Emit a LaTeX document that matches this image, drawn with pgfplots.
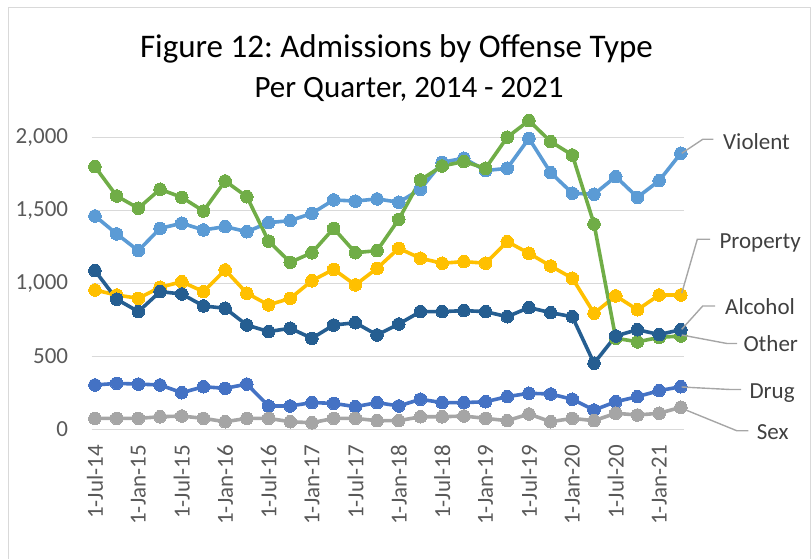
\documentclass[border=0pt]{standalone}
\usepackage{pgfplots}
\usepackage{pgfplotstable}
\pgfplotsset{compat=1.18}
\usepackage{fontspec}
\setmainfont{Carlito}
\frenchspacing
\definecolor{cViolent}{HTML}{5B9BD5}
\definecolor{cOther}{HTML}{70AD47}
\definecolor{cProperty}{HTML}{FFC000}
\definecolor{cAlcohol}{HTML}{255E91}
\definecolor{cDrug}{HTML}{4472C4}
\definecolor{cSex}{HTML}{A5A5A5}
\definecolor{gridgray}{HTML}{D9D9D9}
\definecolor{ticktext}{HTML}{595959}
\definecolor{labeltext}{HTML}{404040}
\definecolor{leader}{HTML}{A6A6A6}

\pgfplotstableread{
i violent other property alcohol drug sex
0  1463 1801 955  1088 304 75
1  1340 1600 921  892  315 75
2  1225 1516 898  807  310 75
3  1378 1646 974  944  304 86
4  1413 1591 1012 928  251 91
5  1367 1497 944  846  292 75
6  1390 1703 1093 830  281 52
7  1355 1595 933  715  310 75
8  1417 1291 853  670  160 75
9  1431 1145 898  693  160 52
10 1481 1211 1019 624  183 45
11 1573 1378 1097 715  178 75
12 1565 1211 990  731  155 75
13 1580 1225 1104 647  183 59
14 1557 1440 1241 722  160 59
15 1646 1710 1173 807  206 86
16 1831 1806 1139 807  183 86
17 1859 1836 1150 814  183 91
18 1774 1790 1139 807  189 75
19 1790 2003 1287 772  224 59
20 1995 2117 1207 835  247 105
21 1760 1973 1120 800  242 52
22 1619 1881 1036 772  206 75
23 1612 1408 796  453  132 59
24 1733 625  915  640  189 110
25 1591 600  820  683  224 98
26 1705 630  921  650  265 110
27 1893 640  921  683  292 151
}\datatable

\pgfplotsset{
  ser/.style={color=#1, line width=3.6pt, line join=round, mark=*, mark size=6.3pt,
    mark options={solid, fill=#1, draw=#1, line width=0pt}},
}

\begin{document}
\begin{tikzpicture}[x=1pt,y=1pt]
\begin{axis}[
  at={(91.7pt,128.7pt)}, anchor=south west,
  scale only axis, width=592.4pt, height=320.8pt,
  xmin=-0.15, xmax=27.15, ymin=0, ymax=2200,
  clip=false,
  axis line style={draw=none},
  major tick length=0pt,
  ymajorgrids, grid style={color=gridgray, line width=1.3pt},
  ytick={0,500,1000,1500,2000},
  xtick={0,2,...,26},
  xticklabels={1-Jul-14,1-Jan-15,1-Jul-15,1-Jan-16,1-Jul-16,1-Jan-17,1-Jul-17,1-Jan-18,1-Jul-18,1-Jan-19,1-Jul-19,1-Jan-20,1-Jul-20,1-Jan-21},
  tick label style={font=\fontsize{23}{23}\selectfont, text=ticktext},
  yticklabel style={anchor=east, inner sep=0pt, xshift=-23.4pt},
  xticklabel style={yshift=-15.7pt, rotate=90, anchor=east, inner sep=0pt},
  /pgf/number format/.cd, 1000 sep={,}, assume math mode=true,
]
\addplot[ser=cDrug] table[x=i, y=drug] {\datatable};
\addplot[ser=cSex] table[x=i, y=sex] {\datatable};
\addplot[ser=cProperty] table[x=i, y=property] {\datatable};
\addplot[ser=cViolent] table[x=i, y=violent] {\datatable};
\addplot[ser=cOther] table[x=i, y=other] {\datatable};
\addplot[ser=cAlcohol] table[x=i, y=alcohol] {\datatable};
\end{axis}
\begin{scope}[shift={(0,558pt)}, x=1pt, y=-1pt]
  \draw[gridgray, line width=1.6pt] (8.5,570) -- (8.5,7.5) -- (810.5,7.5) -- (810.5,570);
  \node[anchor=base, font=\fontsize{33}{33}\selectfont] at (396.5,58) {Figure 12: Admissions by Offense Type};
  \node[anchor=base, font=\fontsize{31}{31}\selectfont] at (409,98) {Per Quarter, 2014 - 2021};
  \begin{scope}[leader, line width=1.4pt]
    \draw (681.7,153.3) -- (702.7,139.3) -- (713.3,139.3);
    \draw (681.7,293.3) -- (697.3,239.3) -- (710,239.3);
    \draw (681.7,329.3) -- (702.7,306) -- (715,306);
    \draw (681.7,335) -- (727,343.5) -- (737,343.5);
    \draw (681.7,387) -- (730,389.5) -- (741,389.5);
    \draw (681.7,408.3) -- (736.7,430.7) -- (748.3,430.7);
  \end{scope}
  \begin{scope}[every node/.style={anchor=base west, inner sep=0pt, text=labeltext, font=\fontsize{23}{23}\selectfont}]
    \node at (723,149.2) {Violent};
    \node at (719.3,248.2) {Property};
    \node at (725,314.2) {Alcohol};
    \node at (743.3,351.5) {Other};
    \node at (749.3,398.2) {Drug};
    \node at (756.7,439.2) {Sex};
  \end{scope}
\end{scope}
\pgfresetboundingbox
\path[use as bounding box] (0,0) rectangle (812,558);
\end{tikzpicture}
\end{document}
